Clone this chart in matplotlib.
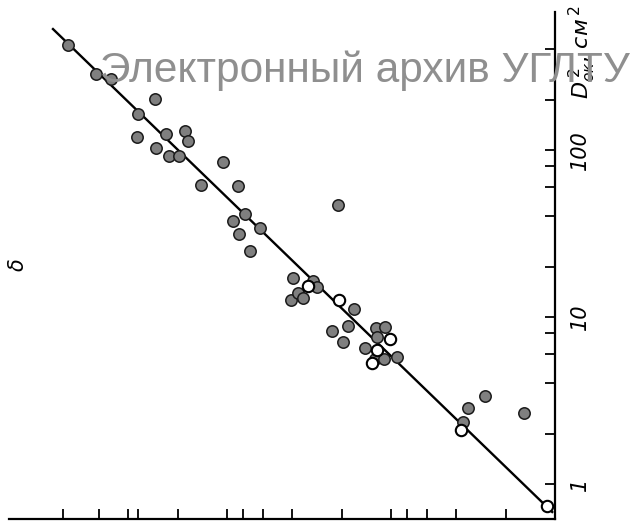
import matplotlib
matplotlib.use("Agg")
import matplotlib.pyplot as plt
import matplotlib.ticker as mticker

# -- measured points: delta (bottom axis, grows to the left) vs D^2_ok, cm^2 --
delta_filled = [929, 629, 510, 275, 347, 235, 355, 180, 174, 271,
                225, 195, 106, 144, 86.1, 77.6, 92.3, 62.9, 84.5, 72.4,
                21.1, 39.8, 29.9, 28.4, 40.9, 36.7, 34.3, 16.7, 18.2, 22.9,
                19.6, 12.4, 10.9, 12.1, 14.4, 12.5, 11.1, 9.16, 3.38, 2.67,
                1.54, 3.63]
d2_filled = [425, 284, 265, 201, 164, 124, 119, 130, 114, 103,
             91.7, 91.7, 85.1, 61.7, 60.9, 41.2, 37.6, 34.0, 31.3, 24.8,
             46.9, 17.1, 16.5, 15.2, 12.6, 13.9, 13.0, 11.1, 8.83, 8.19,
             7.09, 8.56, 8.75, 7.59, 6.50, 5.58, 5.58, 5.76, 2.86, 3.37,
             2.67, 2.34]

delta_open = [32.1, 20.8, 10.2, 12.1, 13.1, 3.74, 1.12]
d2_open = [15.3, 12.6, 7.38, 6.35, 5.34, 2.11, 0.741]

# fitted straight line (log-log), end points
fit_delta = [1151, 1.04]
fit_d2 = [530, 0.68]

# axis ticks as printed
x_ticks = [2, 4, 6, 8, 10, 20, 40, 60, 80, 100, 200, 350, 400, 600, 1000]
y_ticks = [1, 2, 4, 6, 8, 10, 20, 40, 60, 80, 100, 200, 400]
y_tick_text = {1: "1", 10: "10", 100: "100"}

fig = plt.figure(figsize=(6.35, 5.24), dpi=100)
ax = fig.add_axes([0.0142, 0.0095, 0.8598, 0.9675])

ax.set_xscale("log")
ax.set_yscale("log")
ax.set_xlim(2134, 1)
ax.set_ylim(0.617, 670)

# fit line and data
ax.plot(fit_delta, fit_d2, color="black", lw=1.7, zorder=2)
ax.plot(delta_filled, d2_filled, "o", ms=8.2, mfc="#7f7f7f", mec="#1a1a1a",
        mew=1.1, zorder=3)
ax.plot(delta_open, d2_open, "o", ms=8.2, mfc="white", mec="black",
        mew=1.5, zorder=4)

# frame: only the right and bottom axes are drawn
for side in ["left", "top"]:
    ax.spines[side].set_visible(False)
for side in ["right", "bottom"]:
    ax.spines[side].set_linewidth(1.6)

ax.yaxis.tick_right()
ax.xaxis.set_minor_locator(mticker.NullLocator())
ax.yaxis.set_minor_locator(mticker.NullLocator())
ax.set_xticks(x_ticks, labels=[""] * len(x_ticks))
ax.set_yticks(y_ticks, labels=[y_tick_text.get(t, "") for t in y_ticks],
              rotation=90, fontstyle="italic", fontsize=15, va="center")
ax.tick_params(axis="both", which="major", direction="in", length=7,
               width=1.3, color="black")
ax.tick_params(axis="y", pad=11)

# axis titles
fig.text(582 / 635, 1 - 99 / 524, r"$D^{\,2}_{ок}$, $см^{\,2}$",
         rotation=90, fontsize=16, ha="center", va="bottom")
fig.text(18 / 635, 1 - 265 / 524, "δ", rotation=90, fontstyle="italic",
         fontsize=15, ha="center", va="center")

# archive stamp across the top
fig.text(100 / 635, 1 - 82 / 524, "Электронный архив УГЛТУ",
         fontfamily="Liberation Sans", fontsize=30.5, color="#8f8f8f",
         ha="left", va="baseline", zorder=10)

fig.savefig("out.png", dpi=100)
